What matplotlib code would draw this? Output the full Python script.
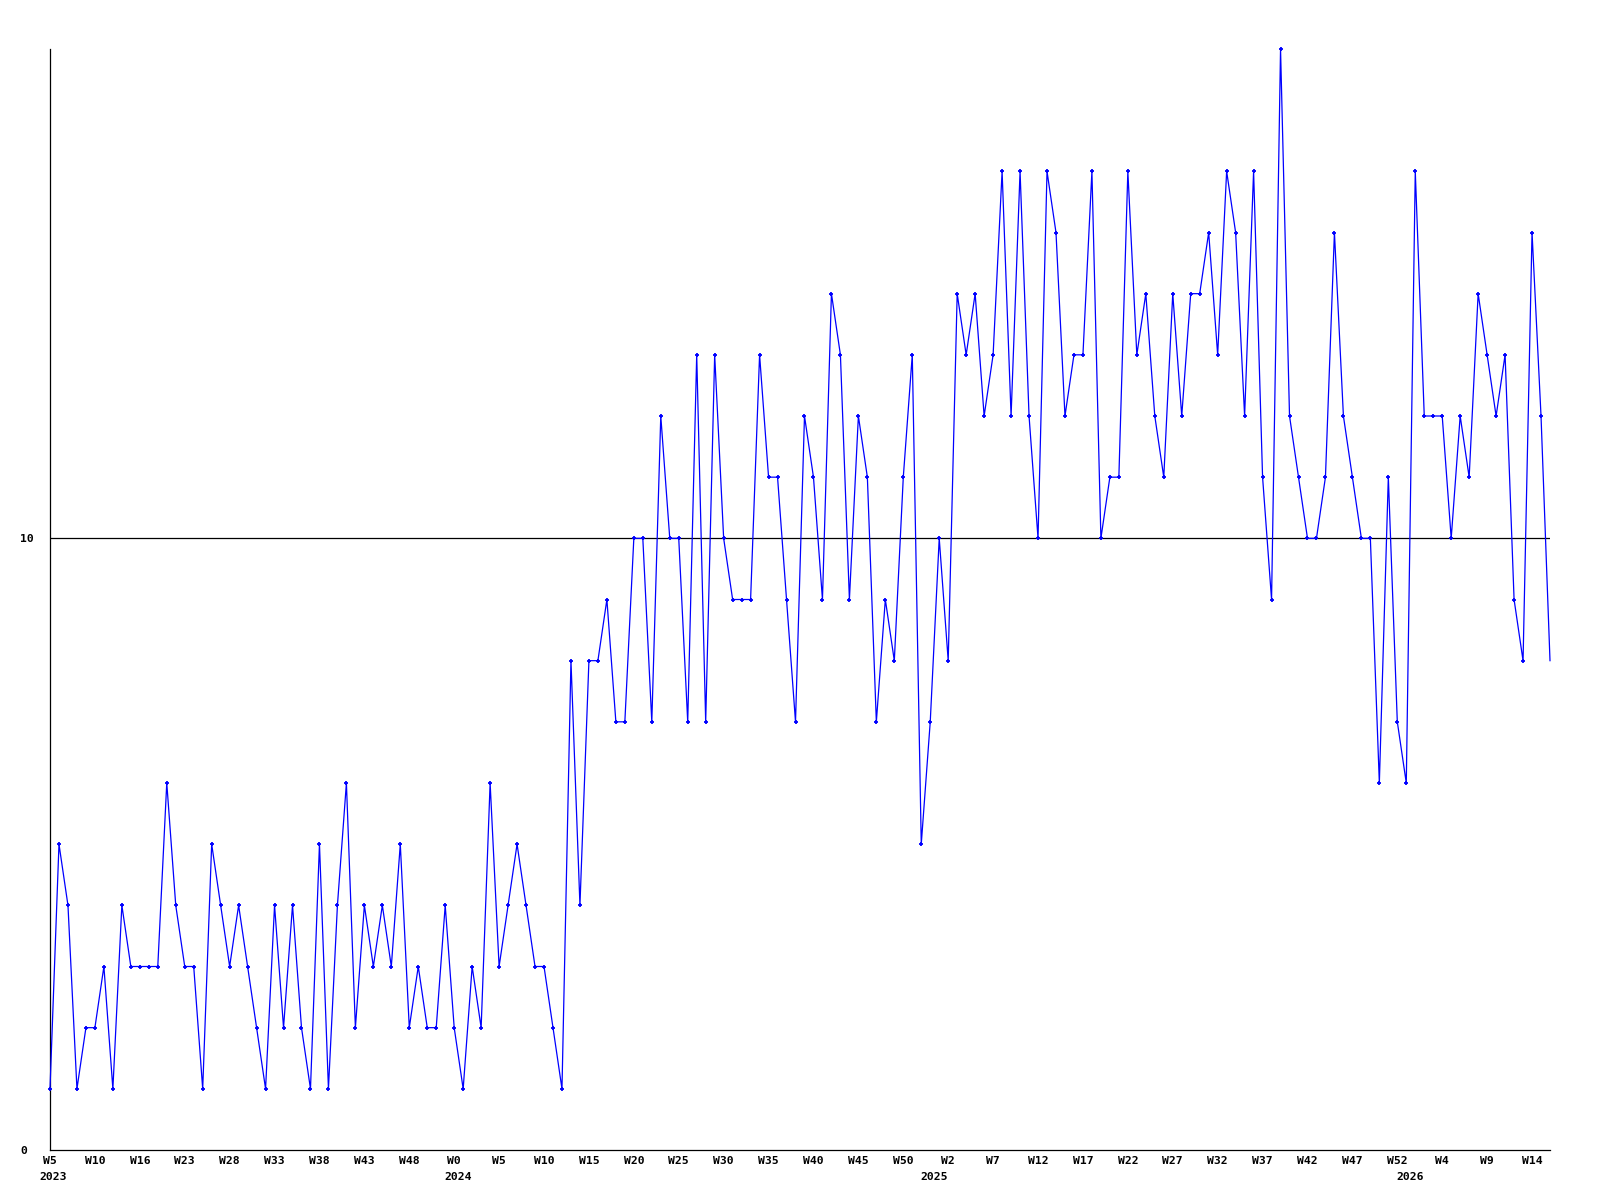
import matplotlib
matplotlib.use("Agg")
import matplotlib.pyplot as plt
import matplotlib.transforms as mtransforms

values = [1,5,4,1,2,2,3,1,4,3,3,3,3,6,4,3,3,1,5,4,3,4,3,2,1,4,2,4,2,1,
          5,1,4,6,2,4,3,4,3,5,2,3,2,2,4,2,1,3,2,6,3,4,5,4,3,3,2,1,
          8,4,8,8,9,7,7,10,10,7,12,10,10,7,13,7,13,10,9,9,9,13,11,11,9,7,12,11,9,
          14,13,9,12,11,7,9,8,11,13,5,7,10,8,14,13,14,12,13,16,12,16,12,10,16,15,12,13,13,16,10,
          11,11,16,13,14,12,11,14,12,14,14,15,13,16,15,12,16,11,9,18,12,11,10,10,11,15,12,11,10,
          10,6,11,7,6,16,12,12,12,10,12,11,14,13,12,13,9,8,15,12,8]

week_labels = ["W5","W10","W16","W23","W28","W33","W38","W43","W48","W0",
               "W5","W10","W15","W20","W25","W30","W35","W40","W45","W50",
               "W2","W7","W12","W17","W22","W27","W32","W37","W42","W47",
               "W52","W4","W9","W14"]
years = ["2023","2024","2025","2026"]
year_start_index = [0, 45, 98, 151]
y_ticks = [0, 10]
reference_value = 10

FONT = dict(family="DejaVu Sans Mono", weight="bold", size=8.2)

fig = plt.figure(figsize=(16, 12), dpi=100)
ax = fig.add_axes([50/1600, 1 - 1150/1200, 1500/1600, 1101/1200])

x = list(range(len(values)))
ax.axhline(reference_value, color="black", lw=0.9, zorder=1)
ax.plot(x, values, color="#0000ff", lw=0.9, marker="+", ms=3.2, mew=1.3,
        markevery=list(range(len(values) - 1)), zorder=3, clip_on=False)

ax.set_xlim(0, len(values) - 1)
ax.set_ylim(0, 18)

for s in ["top", "right"]:
    ax.spines[s].set_visible(False)
for s in ["left", "bottom"]:
    ax.spines[s].set_linewidth(0.9)
    ax.spines[s].set_color("black")

ax.set_xticks(range(0, 5 * len(week_labels), 5))
ax.set_xticklabels(week_labels, **FONT)
ax.set_yticks(y_ticks)
ax.set_yticklabels([str(v) for v in y_ticks], **FONT)
ax.tick_params(axis="x", length=0, pad=4)
ax.tick_params(axis="y", length=0, pad=21.5)
for lab in ax.get_yticklabels():
    lab.set_horizontalalignment("left")

trans = mtransforms.blended_transform_factory(ax.transData, ax.transAxes)
for yr, idx in zip(years, year_start_index):
    ax.text(idx + 0.4, -27/1101, yr, transform=trans, ha="center", va="center", **FONT)

fig.savefig("out.png", dpi=100)
